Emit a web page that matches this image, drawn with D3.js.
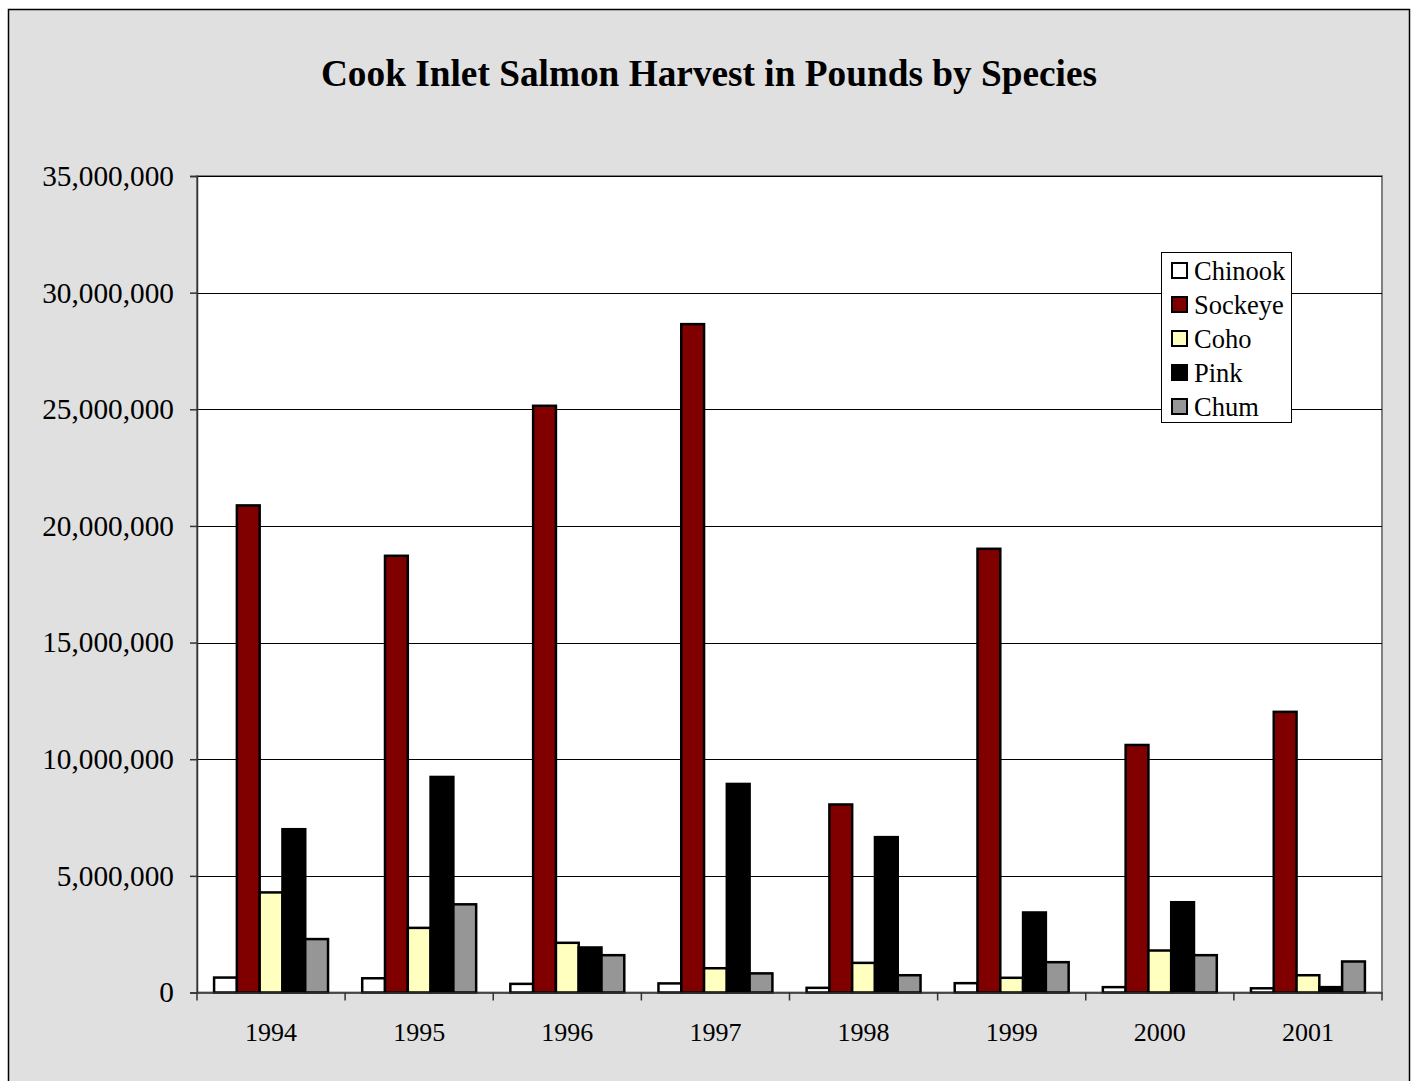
<!DOCTYPE html>
<html><head><meta charset="utf-8">
<script src="https://cdn.jsdelivr.net/npm/d3@7"></script>
<style>body{margin:0;background:#fff;}svg{display:block;}</style>
</head><body>
<script>
const years = ["1994","1995","1996","1997","1998","1999","2000","2001"];
const species = ["Chinook","Sockeye","Coho","Pink","Chum"];
const colors = ["#ffffff","#800000","#ffffc0","#000000","#969696"];
const chinook = [640000, 610000, 370000, 390000, 200000, 400000, 230000, 180000];
const sockeye = [20880000, 18720000, 25150000, 28650000, 8060000, 19020000, 10610000, 12030000];
const coho    = [4290000, 2770000, 2130000, 1040000, 1270000, 630000, 1800000, 740000];
const pink    = [7000000, 9240000, 1930000, 8940000, 6660000, 3430000, 3870000, 230000];
const chum    = [2290000, 3780000, 1600000, 820000, 740000, 1300000, 1600000, 1330000];
const yTicks = [0,5000000,10000000,15000000,20000000,25000000,30000000,35000000];
const series = [chinook, sockeye, coho, pink, chum];

const W = 1416, H = 1081;
const svg = d3.select("body").append("svg").attr("width", W).attr("height", H);
svg.append("rect").attr("x",0).attr("y",0).attr("width",W).attr("height",H).attr("fill","#fff");
svg.append("rect").attr("x",8.5).attr("y",9.5).attr("width",1401).attr("height",1090)
  .attr("fill","#e0e0e0").attr("stroke","#000").attr("stroke-width",1.5);

const L = 197, R = 1382, T = 176, B = 992.5;
const x = d3.scaleBand().domain(years).range([L, R]).paddingInner(0).paddingOuter(0);
const gapRatio = 1.5;
const bw = x.bandwidth() / (species.length + gapRatio);
const y = d3.scaleLinear().domain([0, 35000000]).range([B, T]);

svg.append("rect").attr("x",L).attr("y",T).attr("width",R-L).attr("height",B-T)
  .attr("fill","#fff").attr("stroke","#808080").attr("stroke-width",2);

// gridlines
svg.append("g").selectAll("line").data(yTicks.filter(d=>d>0)).join("line")
  .attr("x1",L).attr("x2",R).attr("y1",d=>Math.round(y(d))+0.5).attr("y2",d=>Math.round(y(d))+0.5)
  .attr("stroke","#000").attr("stroke-width",1);

// bars
series.forEach((vals, si) => {
  svg.append("g").selectAll("rect").data(vals).join("rect")
    .attr("x",(d,i)=> x(years[i]) + bw*gapRatio/2 + si*bw)
    .attr("y", d=> y(d))
    .attr("width", bw)
    .attr("height", d=> B - y(d))
    .attr("fill", colors[si])
    .attr("stroke","#000").attr("stroke-width",2.5);
});

const font = "'Liberation Serif','Times New Roman',serif";
// y axis
const yAxis = d3.axisLeft(y).tickValues(yTicks).tickSize(7).tickPadding(16)
  .tickFormat(d3.format(","));
const gy = svg.append("g").attr("transform",`translate(${L},0)`).call(yAxis);
gy.select(".domain").attr("stroke","#333").attr("stroke-width",1.5);
gy.selectAll(".tick line").attr("stroke","#333").attr("stroke-width",1.5);
gy.selectAll("text").attr("font-family",font).attr("font-size",29.3).attr("fill","#000");

// x axis
const gx = svg.append("g").attr("transform",`translate(0,${B})`).call(
  d3.axisBottom(x).tickSize(0).tickPadding(30));
gx.select(".domain").attr("stroke","#333").attr("stroke-width",1.5);
gx.selectAll("text").attr("font-family",font).attr("font-size",26).attr("fill","#000");
// category boundary ticks
svg.append("g").selectAll("line").data(years.concat(["end"])).join("line")
  .attr("x1",(d,i)=> i<years.length ? x(d) : R).attr("x2",(d,i)=> i<years.length ? x(d) : R)
  .attr("y1",B).attr("y2",B+8).attr("stroke","#333").attr("stroke-width",1.5);

// title
svg.append("text").attr("x",709).attr("y",86).attr("text-anchor","middle")
  .attr("font-family",font).attr("font-weight","bold").attr("font-size",37.3)
  .text("Cook Inlet Salmon Harvest in Pounds by Species");

// legend
const lg = svg.append("g");
lg.append("rect").attr("x",1161.5).attr("y",252.5).attr("width",130).attr("height",170)
  .attr("fill","#fff").attr("stroke","#000").attr("stroke-width",1);
species.forEach((s,i)=>{
  const cy = 271 + i*34;
  lg.append("rect").attr("x",1172).attr("y",cy-8).attr("width",15).attr("height",15)
    .attr("fill",colors[i]).attr("stroke","#000").attr("stroke-width",2);
  lg.append("text").attr("x",1194).attr("y",cy+9).attr("font-family",font).attr("font-size",26.5)
    .text(s);
});
</script>
</body></html>
